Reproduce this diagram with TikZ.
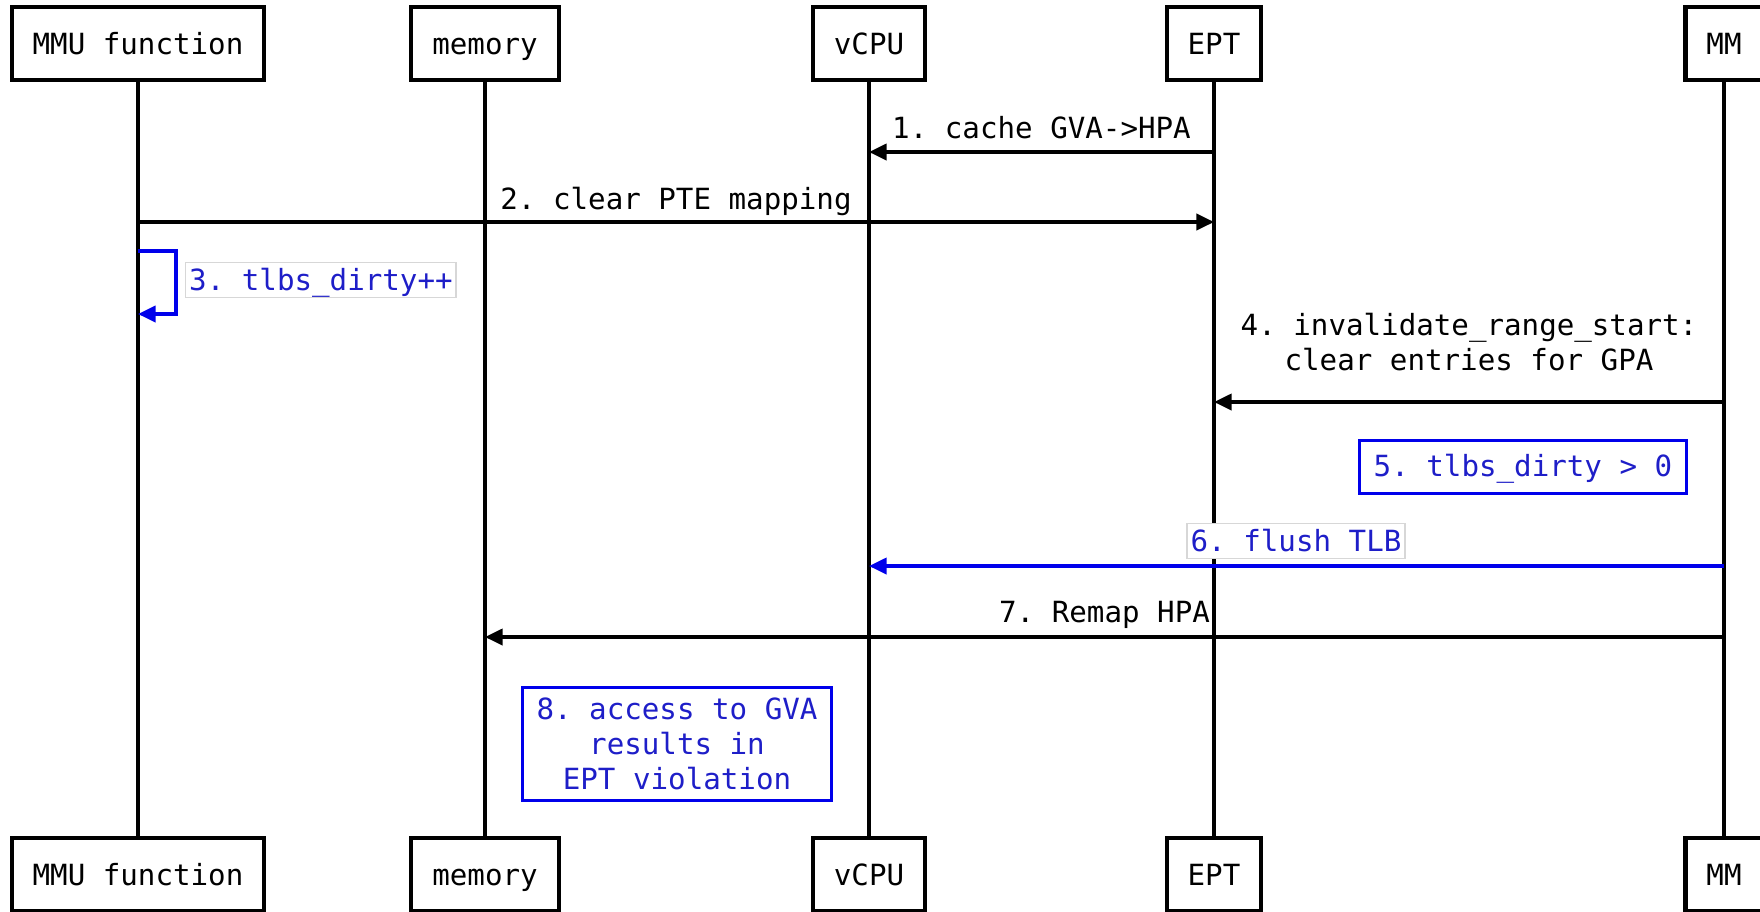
\documentclass[tikz,border=0pt]{standalone}
\usepackage{fontspec}
\setmonofont{DejaVu Sans Mono}
\usetikzlibrary{arrows.meta}
\definecolor{flowblue}{RGB}{0,0,235}
\definecolor{noteblue}{RGB}{30,30,200}
\definecolor{tagframe}{RGB}{215,215,215}
\newcommand{\seqfont}{\ttfamily\fontsize{8.3}{9.9}\selectfont}
\tikzset{
  actor/.style={draw,line width=1.2pt,fill=white,minimum height=7.3mm,inner xsep=2.1mm,text height=7.2pt,text depth=0.8pt,font=\seqfont},
  life/.style={line width=0.9pt},
  msg/.style={line width=0.9pt,-{Triangle[length=5pt,width=4.6pt]}},
  msglbl/.style={anchor=base,inner sep=0pt,align=center,font=\seqfont},
  tag/.style={draw=tagframe,line width=0.4pt,fill=white,inner sep=1pt,text height=7pt,text depth=1pt,text=noteblue,font=\seqfont},
  note/.style={draw=flowblue,line width=0.9pt,fill=white,text=noteblue,align=center,font=\seqfont}
}
\begin{document}
\begin{tikzpicture}[x=0.1mm,y=-0.1mm]
\useasboundingbox (0,0) rectangle (1760,911);

% participants, top and bottom
\node[actor] (mmu)  at (138,43.5)  {MMU function};
\node[actor] (mem)  at (485,43.5)  {memory};
\node[actor] (vcpu) at (869,43.5)  {vCPU};
\node[actor] (ept)  at (1214,43.5) {EPT};
\node[actor] (mm)   at (1724,43.5) {MM};

\node[actor] (mmub)  at (138,874.5)  {MMU function};
\node[actor] (memb)  at (485,874.5)  {memory};
\node[actor] (vcpub) at (869,874.5)  {vCPU};
\node[actor] (eptb)  at (1214,874.5) {EPT};
\node[actor] (mmb)   at (1724,874.5) {MM};

% lifelines
\draw[life] (mmu) -- (mmub);
\draw[life] (mem) -- (memb);
\draw[life] (vcpu) -- (vcpub);
\draw[life] (ept) -- (eptb);
\draw[life] (mm) -- (mmb);

% messages
\draw[msg] (ept |- 0,152) -- (vcpu |- 0,152);
\node[msglbl] (l1) at (1041.5,138) {1. cache GVA->HPA};

\draw[msg] (mmu |- 0,222) -- (ept |- 0,222);
\node[msglbl] (l2) at (676,209) {2. clear PTE mapping};

\draw[msg,flowblue] (mmu |- 0,251) -- (176,251) -- (176,314) -- (mmu |- 0,314);
\node[tag,anchor=west] (l3) at (185,280) {3. tlbs\_dirty++};

\draw[msg] (mm |- 0,402) -- (ept |- 0,402);
\node[msglbl] (l4) at (1469,370) {4. invalidate\_range\_start:\\clear entries for GPA};

\node[note,inner xsep=4pt,inner ysep=3.6pt,text height=6.6pt,text depth=1.4pt] (n5) at (1523,467) {5. tlbs\_dirty > 0};

\draw[msg,flowblue] (mm |- 0,566) -- (vcpu |- 0,566);
\node[tag] (l6) at (1296,541) {6. flush TLB};

\draw[msg] (mm |- 0,637) -- (mem |- 0,637);
\node[msglbl] (l7) at (1104.5,622) {7. Remap HPA};

\node[note,inner xsep=4pt,inner ysep=3pt] (n8) at (677,744) {8. access to GVA\\results in\\EPT violation};
\end{tikzpicture}
\end{document}
